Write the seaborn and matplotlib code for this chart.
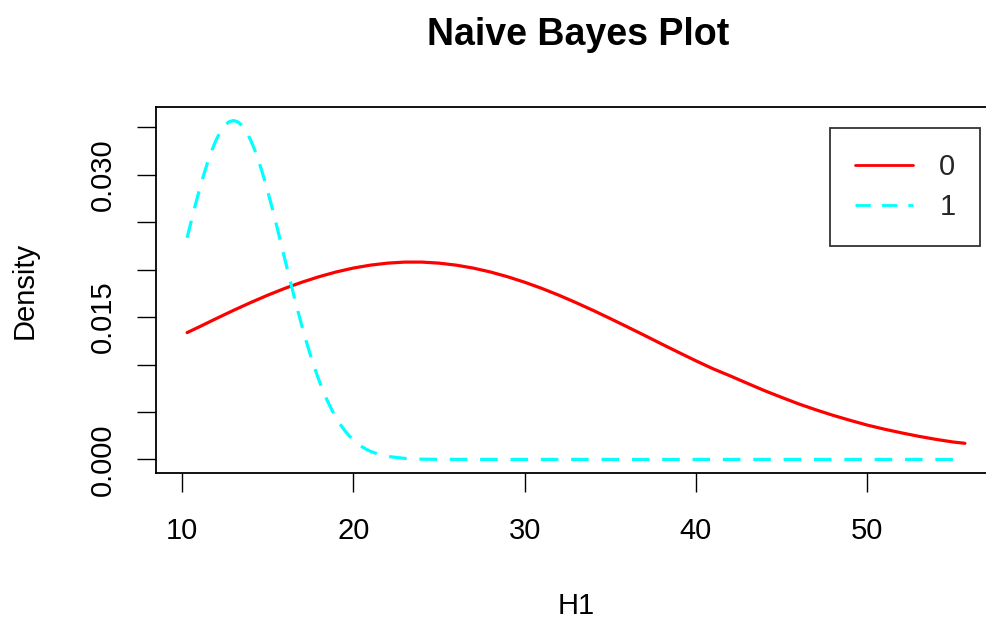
import matplotlib
matplotlib.use("Agg")
import matplotlib.pyplot as plt
import seaborn as sns
import pandas as pd

# Class-conditional density of H1, class "0"
h1_class0 = [10.3, 11, 12, 13, 14, 15, 16, 17, 18, 19, 20, 21, 22, 23, 24, 25,
             26, 27, 28, 29, 30, 31, 32, 33, 34, 35, 36, 37, 38, 39, 40, 41,
             42, 43, 44, 45, 46, 47, 48, 49, 50, 51, 52, 53, 54, 55, 55.7]
dens_class0 = [0.01336, 0.01396, 0.01484, 0.01570, 0.01652, 0.01730, 0.01802,
               0.01867, 0.01925, 0.01975, 0.02016, 0.02047, 0.02068, 0.02079,
               0.02079, 0.02068, 0.02047, 0.02016, 0.01975, 0.01925, 0.01867,
               0.01802, 0.01730, 0.01652, 0.01570, 0.01484, 0.01396, 0.01307,
               0.01216, 0.01127, 0.01039, 0.00955, 0.00880, 0.00802, 0.00725,
               0.00654, 0.00585, 0.00523, 0.00465, 0.00412, 0.00362, 0.00319,
               0.00280, 0.00244, 0.00212, 0.00184, 0.00170]

# Class-conditional density of H1, class "1"
h1_class1 = [10.3, 10.5, 10.75, 11, 11.25, 11.5, 11.75, 12, 12.25, 12.5, 12.75,
             13, 13.25, 13.5, 13.75, 14, 14.25, 14.5, 14.75, 15, 15.25, 15.5,
             15.75, 16, 16.25, 16.5, 16.75, 17, 17.25, 17.5, 17.75, 18, 18.25,
             18.5, 18.75, 19, 19.25, 19.5, 19.75, 20, 20.25, 20.5, 20.75, 21,
             21.5, 22, 23, 24, 25, 30, 40, 50, 55.7]
dens_class1 = [0.02335, 0.02481, 0.02659, 0.02829, 0.02987, 0.03131, 0.03259,
               0.03368, 0.03455, 0.03519, 0.03557, 0.03570, 0.03557, 0.03519,
               0.03455, 0.03368, 0.03259, 0.03131, 0.02987, 0.02829, 0.02659,
               0.02481, 0.02298, 0.02114, 0.01930, 0.01749, 0.01574, 0.01406,
               0.01247, 0.01098, 0.00959, 0.00833, 0.00717, 0.00613, 0.00521,
               0.00439, 0.00367, 0.00305, 0.00251, 0.00206, 0.00167, 0.00135,
               0.00108, 0.00086, 0.00053, 0.00032, 0.00011, 0.00003, 0.00001,
               0.0, 0.0, 0.0, 0.0]

classes = ["0", "1"]
x_ticks = [10, 20, 30, 40, 50]
y_ticks = [0.000, 0.005, 0.010, 0.015, 0.020, 0.025, 0.030, 0.035]
y_labelled = [0.000, 0.015, 0.030]

df0 = pd.DataFrame({"H1": h1_class0, "Density": dens_class0, "cls": classes[0]})
df1 = pd.DataFrame({"H1": h1_class1, "Density": dens_class1, "cls": classes[1]})

sns.set_theme(style="white")
plt.rcParams["font.family"] = ["Liberation Sans", "DejaVu Sans"]

W, H = 986, 622
fig = plt.figure(figsize=(W / 100, H / 100), dpi=100)
ax = fig.add_axes([156 / W, 1 - 473 / H, (996 - 156) / W, (473 - 107) / H])

sns.lineplot(data=df0, x="H1", y="Density", color="red", lw=2.3,
             label=classes[0], ax=ax)
sns.lineplot(data=df1, x="H1", y="Density", color="cyan", lw=2.3,
             label=classes[1], ax=ax)
ax.lines[1].set_dashes((5.5, 4.0))

xmin, xmax = 10.3, 55.7
ymin, ymax = 0.0, 0.0357
xpad = 0.04 * (xmax - xmin)
ypad = 0.04 * (ymax - ymin)
ax.set_xlim(xmin - xpad, xmax + xpad)
ax.set_ylim(ymin - ypad, ymax + ypad)

FS = 21
ax.set_xticks(x_ticks)
ax.set_xticklabels([str(t) for t in x_ticks])
ax.set_yticks(y_ticks)
ax.set_yticklabels([f"{t:.3f}" if any(abs(t - l) < 1e-9 for l in y_labelled) else ""
                    for t in y_ticks], rotation=90, va="center")

ax.tick_params(axis="both", which="major", direction="out", length=13.5,
               width=1.0, color="black", labelsize=FS, labelcolor="black",
               bottom=True, left=True)
ax.tick_params(axis="x", pad=18)
ax.tick_params(axis="y", pad=15)

for s in ax.spines.values():
    s.set_color("black")
    s.set_linewidth(1.3)
    s.set_visible(True)

ax.set_xlabel("H1", fontsize=FS, labelpad=34, color="black")
ax.set_ylabel("Density", fontsize=FS, labelpad=36, color="black")
fig.text(578 / W, 1 - 35 / H, "Naive Bayes Plot", ha="center", va="center",
         fontsize=27, fontweight="bold", color="black")

leg = ax.legend(loc="upper left", bbox_to_anchor=(830 / W, 1 - 128 / H),
                bbox_transform=fig.transFigure, frameon=True, fancybox=False,
                edgecolor="black", fontsize=FS, handlelength=2.0,
                handletextpad=0.9, borderpad=0.85, labelspacing=0.42,
                borderaxespad=0)
leg.get_frame().set_linewidth(1.3)
for h in leg.get_lines():
    h.set_linewidth(2.0)

fig.savefig("out.png", dpi=100)
